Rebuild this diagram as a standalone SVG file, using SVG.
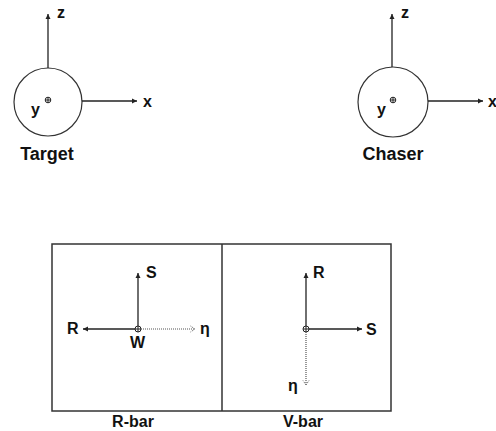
<svg xmlns="http://www.w3.org/2000/svg" width="496" height="431" viewBox="0 0 496 431">
<defs>
<style>
.ax{stroke:#222;stroke-width:1.3;fill:none}
.dot{stroke:#555;stroke-width:1.2;stroke-dasharray:1 1;fill:none}
.circ{stroke:#333;stroke-width:1.2;fill:none}
.frame{stroke:#333;stroke-width:1.5;fill:none}
.lbl{font-family:"Liberation Sans",Arial,sans-serif;font-weight:bold;font-size:16px;fill:#111}
.cap{font-family:"Liberation Sans",Arial,sans-serif;font-weight:bold;font-size:16px;fill:#111;text-anchor:middle}
.big{font-size:18px}
.mk{stroke:#222;stroke-width:1;fill:#fff}
</style>
<marker id="ah" markerWidth="6" markerHeight="6" refX="5" refY="3" orient="auto" markerUnits="userSpaceOnUse">
<path d="M0,0.5 L5,3 L0,5.5 Z" fill="#222"/>
</marker>
<marker id="ao" markerWidth="6" markerHeight="8" refX="5" refY="4" orient="auto" markerUnits="userSpaceOnUse">
<path d="M0.5,1 L5,4 L0.5,7" fill="none" stroke="#666" stroke-width="1" stroke-dasharray="1 1"/>
</marker>
</defs>
<rect width="496" height="431" fill="#fff"/>

<g id="target">
<circle class="circ" cx="48" cy="102" r="34"/>
<text class="lbl" x="31" y="115">y</text>
<g class="mk"><circle cx="48" cy="100" r="2.8"/><path d="M45.2,100 H50.8 M48,97.2 V102.8"/></g>
<text class="cap big" x="47" y="160">Target</text>
</g>

<g id="chaser">
<circle class="circ" cx="393" cy="102" r="35"/>
<text class="lbl" x="377" y="115">y</text>
<g class="mk"><circle cx="393" cy="100" r="2.8"/><path d="M390.2,100 H395.8 M393,97.2 V102.8"/></g>
<text class="cap big" x="393" y="160">Chaser</text>
</g>

<g id="frame">
<rect class="frame" x="52" y="244" width="339" height="167"/>
<line class="frame" x1="222" y1="244" x2="222" y2="411"/>
<text class="cap" x="133" y="427">R-bar</text>
<text class="cap" x="303" y="427">V-bar</text>
</g>

<g id="rbar">
<g class="mk"><circle cx="138" cy="329" r="3"/><path d="M135,329 H141 M138,326 V332"/></g>
<text class="lbl" x="146" y="278">S</text>
<text class="lbl" x="67" y="334">R</text>
<text class="lbl" x="200" y="334">η</text>
<text class="lbl" x="130" y="348">W</text>
</g>

<g id="vbar">
<g class="mk"><circle cx="306" cy="329" r="3"/><path d="M303,329 H309 M306,326 V332"/></g>
<text class="lbl" x="313" y="278">R</text>
<text class="lbl" x="366" y="335">S</text>
<text class="lbl" x="288" y="391">η</text>
</g>

<g id="connectors">
<line class="ax" x1="48" y1="68" x2="48" y2="14" marker-end="url(#ah)"/>
<line class="ax" x1="82" y1="101" x2="137" y2="101" marker-end="url(#ah)"/>
<line class="ax" x1="392" y1="67" x2="392" y2="14" marker-end="url(#ah)"/>
<line class="ax" x1="428" y1="101" x2="483" y2="101" marker-end="url(#ah)"/>
<line class="ax" x1="138" y1="326" x2="138" y2="273" marker-end="url(#ah)"/>
<line class="ax" x1="135" y1="329" x2="83" y2="329" marker-end="url(#ah)"/>
<line class="dot" x1="141" y1="329" x2="195" y2="329" marker-end="url(#ao)"/>
<line class="ax" x1="306" y1="326" x2="306" y2="273" marker-end="url(#ah)"/>
<line class="ax" x1="309" y1="329" x2="362" y2="329" marker-end="url(#ah)"/>
<line class="dot" x1="306" y1="332" x2="306" y2="385" marker-end="url(#ao)"/>
</g>
<text class="lbl" x="57" y="18">z</text>
<text class="lbl" x="143" y="107">x</text>
<text class="lbl" x="401" y="18">z</text>
<text class="lbl" x="488" y="107">x</text>
</svg>
